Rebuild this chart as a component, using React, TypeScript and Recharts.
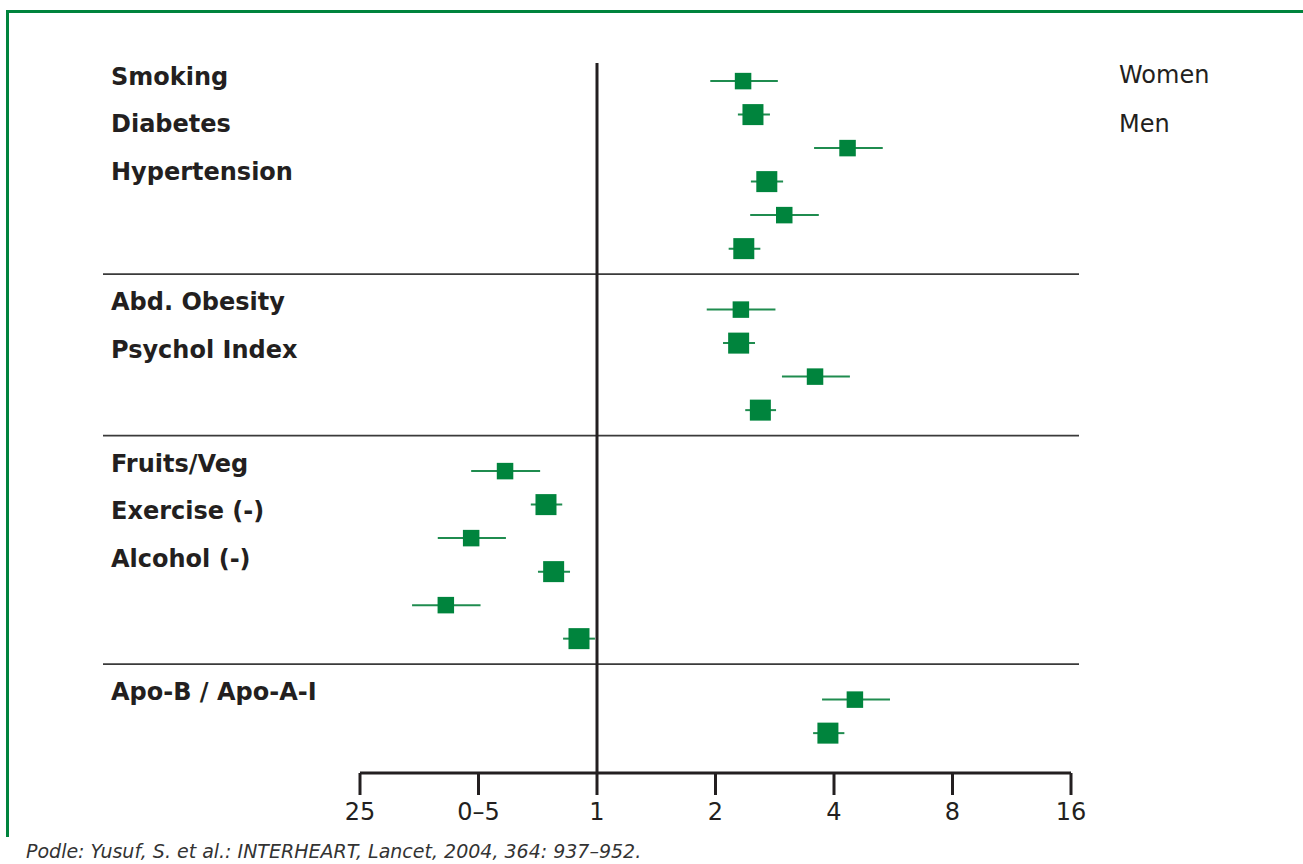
import { ComposedChart, Scatter, ErrorBar, XAxis, YAxis, ReferenceLine } from 'recharts';

// odds ratios (women = small square, men = large)
const factors = [
  'Smoking', 'Diabetes', 'Hypertension',
  'Abd. Obesity', 'Psychol Index',
  'Fruits/Veg', 'Exercise (-)', 'Alcohol (-)',
  'Apo-B / Apo-A-I',
];
const groupSizes = [3, 2, 3, 1];

const womenOR = [2.35, 4.33, 2.99, 2.32, 3.58, 0.584, 0.479, 0.413, 4.52];
const womenLo = [1.94, 3.56, 2.45, 1.9, 2.95, 0.479, 0.394, 0.339, 3.73];
const womenHi = [2.88, 5.32, 3.66, 2.84, 4.39, 0.717, 0.587, 0.506, 5.55];

const menOR = [2.49, 2.7, 2.36, 2.29, 2.6, 0.742, 0.776, 0.9, 3.86];
const menLo = [2.28, 2.46, 2.16, 2.09, 2.38, 0.679, 0.708, 0.82, 3.54];
const menHi = [2.75, 2.97, 2.6, 2.52, 2.85, 0.816, 0.854, 0.988, 4.25];

const tickValues = [0.25, 0.5, 1, 2, 4, 8, 16];
const tickLabels = ['25', '0–5', '1', '2', '4', '8', '16'];

const legendLabels = ['Women', 'Men'];
const source = 'Podle: Yusuf, S. et al.: INTERHEART, Lancet, 2004, 364: 937–952.';

const GREEN = '#00843d';
const LINE_GREEN = '#1f8c4f';
const INK = '#231f20';
const FONT = '"DejaVu Sans", sans-serif';

// layout
const W = 1303;
const H = 864;
const PLOT_L = 103;
const PLOT_R = 1079;
const PLOT_T = 63;
const PLOT_B = 773;
const AXIS_L = 360;
const AXIS_R = 1071;
const X_AXIS_H = 50;

const pxPerOct = (AXIS_R - AXIS_L) / 6;
const X_LO = 0.25 / Math.pow(2, (AXIS_L - PLOT_L) / pxPerOct);
const X_HI = 16 * Math.pow(2, (PLOT_R - AXIS_R) / pxPerOct);

// row slots: one per sex, extra gap between groups
const GAP = 0.82;
const womenData: any[] = [];
const menData: any[] = [];
const separators: number[] = [];
const labelSlots: number[][] = [];
{
  let slot = 0;
  let f = 0;
  groupSizes.forEach((n, gi) => {
    const first = slot;
    const names: number[] = [];
    for (let i = 0; i < n; i++, f++) {
      womenData.push({ or: womenOR[f], pos: slot, err: [womenOR[f] - womenLo[f], womenHi[f] - womenOR[f]] });
      menData.push({ or: menOR[f], pos: slot + 1, err: [menOR[f] - menLo[f], menHi[f] - menOR[f]] });
      names.push(f);
      slot += 2;
    }
    labelSlots.push([first, ...names]);
    if (gi < groupSizes.length - 1) separators.push(slot - 1 + 0.76);
    slot += GAP;
  });
}
const lastSlot = menData[menData.length - 1].pos;
const Y_MIN = -0.54;
const Y_MAX = lastSlot + 1.19;
const yPx = (s: number) => PLOT_T + ((s - Y_MIN) / (Y_MAX - Y_MIN)) * (PLOT_B - PLOT_T);

const square = (size: number) => (props: any) => {
  const { cx, cy } = props;
  if (cx == null || cy == null) return <g />;
  return <rect x={cx - size / 2} y={cy - size / 2} width={size} height={size} fill={GREEN} />;
};

const LABEL_SIZE = 24;
const capTop = (center: number, size: number) => center - 0.482 * size;

export default function App() {
  return (
    <div style={{ position: 'absolute', left: 0, top: 0, width: W, height: H, background: '#fff', overflow: 'hidden' }}>
      <div
        style={{
          position: 'absolute', left: 6, top: 10, width: W, height: 824,
          borderTop: `3px solid ${GREEN}`, borderLeft: `3px solid ${GREEN}`,
        }}
      />
      <ComposedChart
        width={W}
        height={H}
        margin={{ top: PLOT_T, left: PLOT_L, right: W - PLOT_R, bottom: H - PLOT_B - X_AXIS_H }}
        style={{ position: 'absolute', left: 0, top: 0 }}
      >
        <XAxis
          dataKey="or"
          type="number"
          scale="log"
          domain={[X_LO, X_HI]}
          allowDataOverflow
          ticks={tickValues}
          tickFormatter={(v) => tickLabels[tickValues.indexOf(v)] ?? String(v)}
          axisLine={false}
          tickLine={{ stroke: INK, strokeWidth: 3 }}
          tickSize={22}
          tickMargin={8}
          height={X_AXIS_H}
          tick={{ fill: INK, fontSize: 24, fontFamily: FONT }}
          interval={0}
        />
        <YAxis dataKey="pos" type="number" domain={[Y_MIN, Y_MAX]} reversed hide allowDataOverflow />
        {separators.map((s) => (
          <ReferenceLine key={s} y={s} stroke="#3a3a3a" strokeWidth={1.6} />
        ))}
        <ReferenceLine x={1} stroke={INK} strokeWidth={3} />
        <ReferenceLine
          segment={[{ x: 0.25, y: Y_MAX }, { x: 16, y: Y_MAX }]}
          stroke={INK}
          strokeWidth={3}
          ifOverflow="visible"
        />
        <Scatter data={womenData} shape={square(16.5)} isAnimationActive={false}>
          <ErrorBar dataKey="err" direction="x" width={0} stroke={LINE_GREEN} strokeWidth={2} isAnimationActive={false} />
        </Scatter>
        <Scatter data={menData} shape={square(21)} isAnimationActive={false}>
          <ErrorBar dataKey="err" direction="x" width={0} stroke={LINE_GREEN} strokeWidth={2} isAnimationActive={false} />
        </Scatter>
      </ComposedChart>

      {labelSlots.map(([first, ...ids], gi) =>
        ids.map((id, i) => (
          <div
            key={id}
            style={{
              position: 'absolute', left: 111,
              top: capTop(yPx(first) + (gi === 0 ? -5 : -8) + i * 47.5, LABEL_SIZE),
              fontFamily: FONT, fontWeight: 700, fontSize: LABEL_SIZE, lineHeight: 1, color: INK,
              whiteSpace: 'nowrap',
            }}
          >
            {factors[id]}
          </div>
        )),
      )}

      {legendLabels.map((t, i) => (
        <div
          key={t}
          style={{
            position: 'absolute', left: 1119, top: capTop(75 + i * 49, 24),
            fontFamily: FONT, fontSize: 24, lineHeight: 1, color: INK,
          }}
        >
          {t}
        </div>
      ))}

      <div
        style={{
          position: 'absolute', left: 26, top: capTop(851, 19),
          fontFamily: FONT, fontStyle: 'italic', fontSize: 19, lineHeight: 1, color: '#333',
          whiteSpace: 'nowrap',
        }}
      >
        {source}
      </div>
    </div>
  );
}
